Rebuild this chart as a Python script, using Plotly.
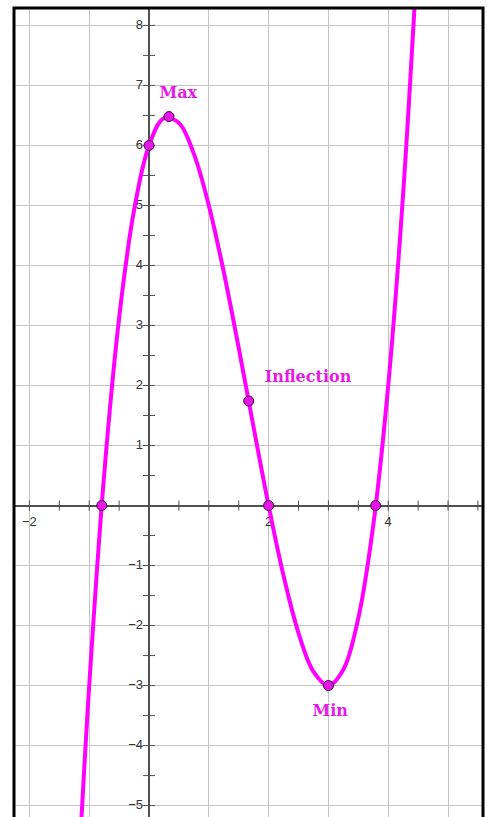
import plotly.graph_objects as go

# Cubic curve samples (x, y)
curve_x = [-1.15, -1.0, -0.75, -0.5, -0.25, 0.0, 0.25, 0.5, 0.75, 1.0, 1.25, 1.5,
           1.75, 2.0, 2.25, 2.5, 2.75, 3.0, 3.25, 3.5, 3.75, 4.0, 4.25, 4.5]
curve_y = [-5.583, -3.0, 0.516, 3.125, 4.922, 6.0, 6.453, 6.375, 5.859, 5.0, 3.891, 2.625,
           1.297, 0.0, -1.172, -2.125, -2.766, -3.0, -2.734, -1.875, -0.328, 2.0, 5.203, 9.375]

# Marked points: roots, y-intercept, extrema, inflection
point_x = [-0.79, 0.0, 0.333, 1.667, 2.0, 3.0, 3.79]
point_y = [0.0, 6.0, 6.481, 1.741, 0.0, -3.0, 0.0]

# Point labels
label_text = ["Max", "Inflection", "Min"]
label_x = [0.49, 2.66, 3.03]
label_y = [6.85, 2.12, -3.44]

# Axis tick labels
x_tick_vals = [-2, 2, 4]
y_tick_vals = [8, 7, 6, 5, 4, 3, 2, 1, -1, -2, -3, -4, -5]
minor_x = [v / 2 for v in range(-4, 12)]
minor_y = [v / 2 for v in range(-11, 17) if v != 0]

X_RANGE = [-2.258, 5.585]
Y_RANGE = [-5.19, 8.29]
AXIS_COLOR = "#505050"
MAGENTA = "#ff00ff"

fig = go.Figure()

# Tick marks crossing each axis
tx, ty = [], []
for v in minor_x:
    if v == 0:
        continue
    tx += [v, v, None]
    ty += [-0.085, 0.085, None]
for v in minor_y:
    tx += [-0.1, 0.1, None]
    ty += [v, v, None]
fig.add_trace(go.Scatter(x=tx, y=ty, mode="lines",
                         line=dict(color=AXIS_COLOR, width=1),
                         hoverinfo="skip", showlegend=False))

# Tick labels next to the axes
fig.add_trace(go.Scatter(
    x=x_tick_vals, y=[-0.29] * len(x_tick_vals), mode="text",
    text=["\u2212" + str(-v) if v < 0 else str(v) for v in x_tick_vals],
    textposition="middle center",
    textfont=dict(family="Liberation Sans, Arial", size=13, color="#333333"),
    hoverinfo="skip", showlegend=False))
fig.add_trace(go.Scatter(
    x=[-0.1] * len(y_tick_vals), y=y_tick_vals, mode="text",
    text=["\u2212" + str(-v) if v < 0 else str(v) for v in y_tick_vals],
    textposition="middle left",
    textfont=dict(family="Liberation Sans, Arial", size=13, color="#333333"),
    hoverinfo="skip", showlegend=False))

# The function curve
fig.add_trace(go.Scatter(x=curve_x, y=curve_y, mode="lines",
                         line=dict(color=MAGENTA, width=4, shape="spline"),
                         hoverinfo="skip", showlegend=False))

# Highlighted points
fig.add_trace(go.Scatter(x=point_x, y=point_y, mode="markers",
                         marker=dict(size=10, color="#e616e6",
                                     line=dict(color="#4a004a", width=1)),
                         hoverinfo="skip", showlegend=False))

# Point labels
fig.add_trace(go.Scatter(x=label_x, y=label_y, mode="text", text=label_text,
                         textposition="middle center",
                         textfont=dict(family="DejaVu Serif, Liberation Serif",
                                       size=16, color="#e619e6", weight="bold"),
                         hoverinfo="skip", showlegend=False))

axis_common = dict(showgrid=True, gridcolor="#c4c4c4", gridwidth=1, dtick=1,
                   zeroline=True, zerolinecolor=AXIS_COLOR, zerolinewidth=1.6,
                   showticklabels=False, ticks="", showline=False, fixedrange=True)

fig.update_layout(
    width=487, height=817,
    margin=dict(l=14, r=4, t=8, b=0),
    paper_bgcolor="white", plot_bgcolor="white",
    xaxis=dict(range=X_RANGE, tick0=0, **axis_common),
    yaxis=dict(range=Y_RANGE, tick0=0, **axis_common),
    shapes=[dict(type="rect", xref="paper", yref="paper",
                 x0=0, x1=1, y0=-0.05, y1=1,
                 line=dict(color="black", width=3))],
)

fig.write_html("out.html")
